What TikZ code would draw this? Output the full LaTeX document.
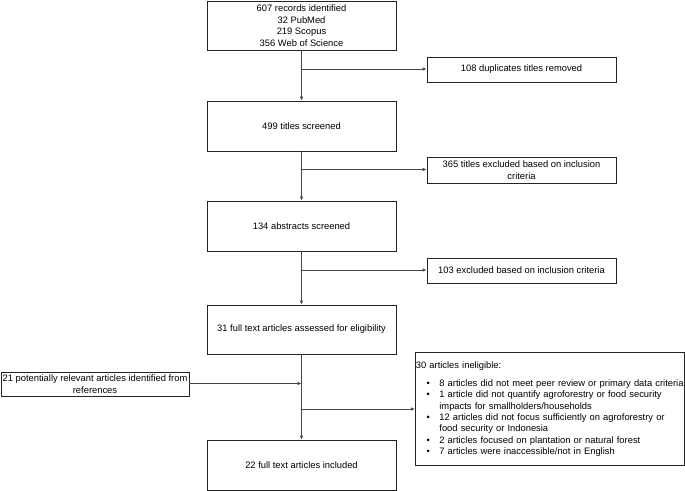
\documentclass[tikz,border=0pt]{standalone}
\usepackage{fontspec}
\setmainfont{Liberation Sans}
\usepackage{enumitem}
\usetikzlibrary{arrows.meta}
\definecolor{boxline}{RGB}{35, 35, 35}
\definecolor{flowline}{RGB}{70, 70, 70}

\tikzset{
  stage/.style={draw=boxline, line width=0.8bp, minimum width=189bp, minimum height=50bp, align=center, inner sep=1bp},
  note/.style={draw=boxline, line width=0.8bp, minimum width=189bp, minimum height=25bp, align=center, inner sep=1bp},
  flow/.style={draw=flowline, line width=0.8bp, -{Latex[length=4bp,width=3.6bp]}},
}

\begin{document}
\begin{tikzpicture}[x=1bp, y=-1bp, font=\fontsize{9.4}{11.6}\selectfont]
			\useasboundingbox (0, 0) rectangle (685, 491);
			% main column
			\node[stage, minimum height=49bp] (records) at (301.5, 25.5) {607 records identified\\32 PubMed\\219 Scopus\\356 Web of Science};
			\node[stage] (titles) at (301.5, 126) {499 titles screened};
			\node[stage] (abstracts) at (301.5, 226) {134 abstracts screened};
			\node[stage, minimum height=49bp] (fulltext) at (301.5, 329.5) {31 full text articles assessed for eligibility};
			\node[stage] (included) at (301.5, 465) {22 full text articles included};
			% side boxes
			\node[note] (duplicates) at (521.5, 69.5) {108 duplicates titles removed};
			\node[note, minimum height=26bp] (titlesout) at (521.5, 170) {365 titles excluded based on inclusion\\criteria};
			\node[note] (abstractsout) at (521.5, 270.5) {103 excluded based on inclusion criteria};
			\node[note, minimum width=188bp, minimum height=24bp] (references) at (95, 384) {21 potentially relevant articles identified from\\references};
			\node[draw=boxline, line width=0.8bp, anchor=north west, minimum height=113bp, text width=268bp, inner xsep=0.5bp, inner ysep=0bp, font=\fontsize{9.4}{11.35}\selectfont] (ineligible) at (415, 352) {\raggedright
				30 articles ineligible:
				\begin{itemize}[leftmargin=23.5bp, labelsep=9.5bp, topsep=7bp, partopsep=0pt, itemsep=0pt, parsep=0pt, label=\textbullet]
					\item \makebox[\linewidth][l]{8 articles did not meet peer review or primary data criteria}
					\item 1 article did not quantify agroforestry or food security\newline impacts for smallholders/households
					\item 12 articles did not focus sufficiently on agroforestry or\newline food security or Indonesia
					\item 2 articles focused on plantation or natural forest
					\item 7 articles were inaccessible/not in English
				\end{itemize}};
			% branch points on the spine
			\coordinate (b1) at (301.5, 69);
			\coordinate (b2) at (301.5, 169.5);
			\coordinate (b3) at (301.5, 270);
			\coordinate (b4) at (301.5, 383.5);
			\coordinate (b5) at (301.5, 409);
			% connectors
			\draw[flow] (records.south) -- (titles.north);
			\draw[flow] (titles.south) -- (abstracts.north);
			\draw[flow] (abstracts.south) -- (fulltext.north);
			\draw[flow] (fulltext.south) -- (included.north);
			\draw[flow] (b1) -- (b1 -| duplicates.west);
			\draw[flow] (b2) -- (b2 -| titlesout.west);
			\draw[flow] (b3) -- (b3 -| abstractsout.west);
			\draw[flow] (references.east |- b4) -- (b4);
			\draw[flow] (b5) -- (b5 -| ineligible.west);
		\end{tikzpicture}
\end{document}
